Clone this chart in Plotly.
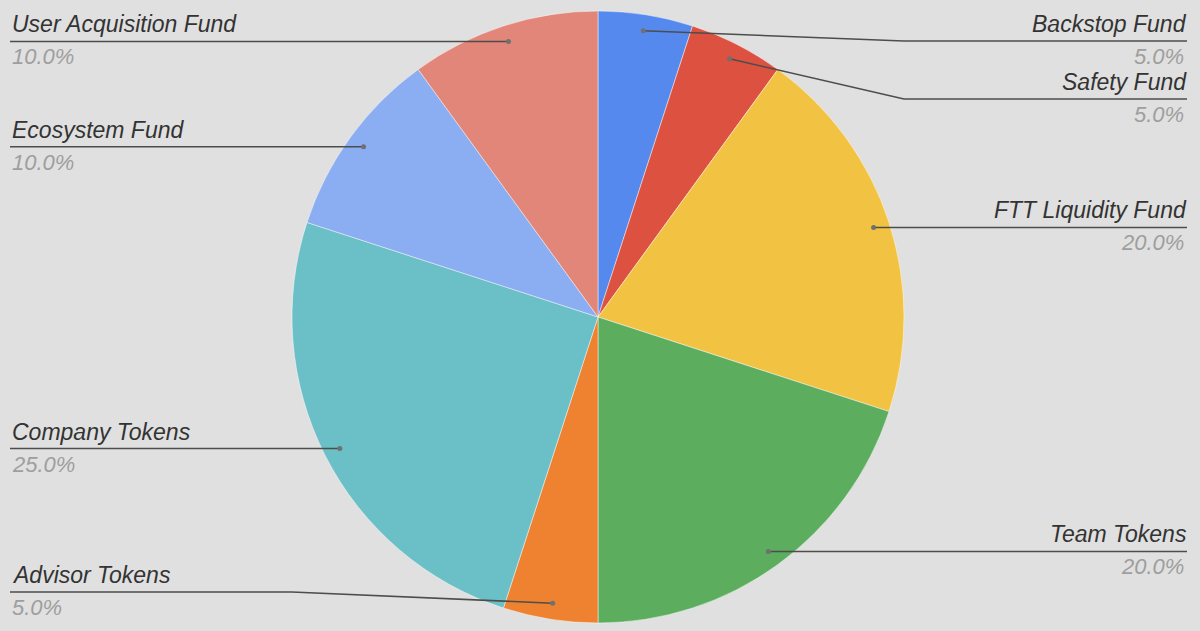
import math
import plotly.graph_objects as go

labels = ["Backstop Fund", "Safety Fund", "FTT Liquidity Fund", "Team Tokens",
          "Advisor Tokens", "Company Tokens", "Ecosystem Fund", "User Acquisition Fund"]
values = [5.0, 5.0, 20.0, 20.0, 5.0, 25.0, 10.0, 10.0]
colors = ["#5689ee", "#dc513f", "#f2c342", "#5cad5e",
          "#ee8231", "#6bbfc6", "#8badf1", "#e2867a"]

W, H = 1200, 631
CX, CY, R = 598, 317, 306
BG = "#e0e0e0"

fig = go.Figure()
fig.add_trace(go.Pie(
    labels=labels, values=values, sort=False, direction="clockwise", rotation=0,
    marker=dict(colors=colors, line=dict(color="rgba(255,255,255,0.45)", width=1)),
    textinfo="none", hoverinfo="label+percent", showlegend=False,
    domain=dict(x=[(CX - R) / W, (CX + R) / W], y=[(H - CY - R) / H, (H - CY + R) / H]),
))

total = sum(values)
anchors = []
cum = 0.0
for v in values:
    mid = (cum + v / 2) / total * 2 * math.pi
    cum += v
    ax = CX + 0.947 * R * math.sin(mid)
    ay = CY - 0.947 * R * math.cos(mid)
    anchors.append((ax, ay))

YMIN, YMAX, GAP = 41, 592, 58
sides = {"right": [], "left": []}
for i, (ax, ay) in enumerate(anchors):
    sides["right" if ax >= CX else "left"].append(i)
label_y = {}
for side, idx in sides.items():
    idx = sorted(idx, key=lambda i: anchors[i][1])
    prev = -1e9
    for i in idx:
        y = min(max(anchors[i][1], YMIN), YMAX)
        y = max(y, prev + GAP)
        label_y[i] = y
        prev = y

LINE = "#4d4d4d"
FONT = "Liberation Sans, Arial, sans-serif"
for i, (ax, ay) in enumerate(anchors):
    ly = label_y[i]
    right = ax >= CX
    xend = 1187 if right else 10
    if abs(ly - ay) > 1:
        bx = CX + R if right else CX - R
        pts = [(ax, ay), (bx, ly), (xend, ly)]
    else:
        pts = [(ax, ay), (xend, ly)]
    for (x0, y0), (x1, y1) in zip(pts[:-1], pts[1:]):
        fig.add_shape(type="line", xref="x", yref="y", x0=x0, y0=y0, x1=x1, y1=y1,
                      line=dict(color=LINE, width=1.5), layer="above")
    fig.add_shape(type="circle", xref="x", yref="y", x0=ax - 2.5, y0=ay - 2.5,
                  x1=ax + 2.5, y1=ay + 2.5, fillcolor="#707070",
                  line=dict(width=0), layer="above")
    anchor = "right" if right else "left"
    fig.add_annotation(x=xend + (2 if right else 0), y=ly - 2, text="<i>%s</i>" % labels[i],
                       showarrow=False, xanchor=anchor, yanchor="bottom",
                       font=dict(family=FONT, size=23, color="#333333"))
    fig.add_annotation(x=xend + (-1 if right else 0), y=ly + 1, text="<i>%.1f%%</i>" % values[i],
                       showarrow=False, xanchor=anchor, yanchor="top",
                       font=dict(family=FONT, size=22, color="#9e9e9e"))

fig.update_layout(
    width=W, height=H, margin=dict(l=0, r=0, t=0, b=0),
    paper_bgcolor=BG, plot_bgcolor="rgba(0,0,0,0)",
    xaxis=dict(range=[0, W], visible=False, fixedrange=True),
    yaxis=dict(range=[H, 0], visible=False, fixedrange=True),
)
fig.write_html("out.html", config={"displayModeBar": False},
               post_script="document.body.style.margin='0';document.body.style.overflow='hidden';")
